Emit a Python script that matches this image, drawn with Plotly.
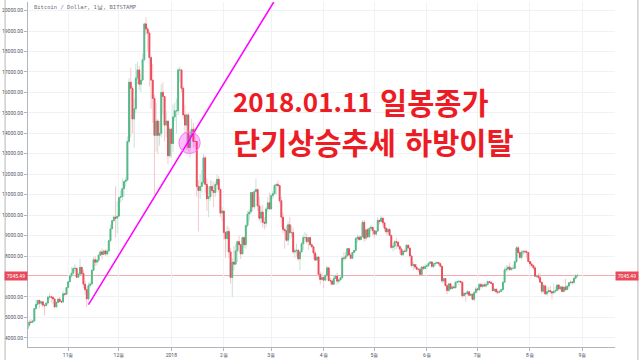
import plotly.graph_objects as go
import pandas as pd

# ---------------- data (daily BTC/USD, Bitstamp) ----------------
first_open = 4440
start_date = "2017-10-08"

oct_c = [4610, 4770, 4760, 4820, 5430, 5640, 5830, 5690, 5760, 5600, 5570, 5700, 5990, 6010, 5980, 5900, 5510, 5730, 5890, 5770, 5750, 6150, 6130, 6460]
oct_h = [4620, 4880, 4920, 4880, 5440, 5860, 5850, 5860, 5780, 5780, 5600, 5720, 6070, 6190, 6070, 6050, 5900, 5770, 5970, 6000, 5850, 6300, 6200, 6470]
oct_l = [4420, 4560, 4740, 4730, 4820, 5380, 5560, 5450, 5570, 5510, 5100, 5540, 5610, 5880, 5730, 5650, 5460, 5480, 5690, 5730, 5680, 5690, 6030, 6100]

nov_c = [6740, 7030, 7160, 7390, 7400, 6960, 7110, 7450, 7140, 6620, 6350, 5900, 6560, 6630, 7300, 7820, 7700, 7790, 8040, 8200, 8080, 8250, 8100, 8240, 8750, 9330, 9730, 9900, 9850, 9950]
nov_h = [6780, 7100, 7450, 7490, 7600, 7410, 7200, 7880, 7460, 7340, 6790, 6500, 6710, 6760, 7350, 7950, 8000, 7850, 8100, 8290, 8370, 8300, 8310, 8350, 8800, 9530, 9750, 10000, 11400, 10700]
nov_l = [6380, 6720, 6930, 7030, 7250, 6930, 6940, 7060, 7070, 6430, 6110, 5500, 5820, 6460, 6590, 7290, 7500, 7530, 7670, 8000, 7850, 8060, 8010, 7960, 8090, 8690, 9340, 9650, 8900, 9100]

dec_c = [10860, 10900, 11290, 11640, 11710, 13600, 16500, 16200, 14700, 15200, 16700, 17100, 16400, 16600, 17600, 19350, 19100, 18900, 17700, 16600, 15700, 13900, 14600, 13900, 14000, 16000, 15800, 14400, 14600, 12900, 14200]
dec_h = [10900, 11200, 11800, 11650, 11850, 13850, 16700, 17200, 16300, 15700, 17400, 17500, 17300, 16900, 17900, 19400, 19666, 19200, 19000, 17800, 17400, 15900, 15500, 14700, 14600, 16400, 16500, 15500, 15100, 14600, 14300]
dec_l = [9900, 10600, 10700, 10900, 11400, 11700, 13500, 13800, 14000, 13300, 15000, 16400, 16100, 16000, 16600, 17500, 18800, 18000, 16300, 15200, 14500, 11000, 13100, 13000, 13400, 13800, 14900, 13600, 13800, 12500, 12800]

jan_c = [13500, 14800, 15100, 15100, 17100, 17100, 16200, 14900, 14400, 14900, 13300, 13900, 14200, 13600, 13600, 11400, 11200, 11400, 11600, 12800, 11500, 10800, 10900, 11400, 11200, 11100, 11500, 11750, 11250, 10100, 10200]
jan_h = [14250, 15400, 15500, 15700, 17200, 17250, 17100, 16300, 15400, 14950, 15000, 14100, 14700, 14500, 14300, 13600, 11700, 12000, 12200, 13000, 12900, 11800, 11400, 11700, 11700, 11600, 11650, 12000, 11900, 11300, 10400]
jan_l = [12800, 13100, 14600, 14000, 14900, 16500, 16000, 14700, 14000, 13200, 13100, 12800, 13800, 13300, 13300, 10900, 9200, 10800, 11100, 11500, 11100, 10200, 9900, 10700, 10900, 10400, 10900, 11400, 11100, 9900, 9700]

feb_c = [9150, 8850, 9200, 8200, 6950, 7700, 7600, 8250, 8700, 8550, 8100, 8900, 8550, 9500, 10050, 10150, 11100, 10400, 11150, 11250, 10450, 9850, 10150, 9650, 9600, 10300, 10600, 10300]
feb_h = [10200, 9200, 9500, 9400, 8400, 7900, 8500, 8600, 8750, 9000, 8600, 8950, 8950, 9500, 10200, 10300, 11100, 11100, 11250, 11780, 11300, 10900, 10400, 10500, 9900, 10400, 10880, 11100]
feb_l = [8800, 7900, 8200, 7900, 6650, 5980, 7300, 7600, 7700, 8200, 7850, 8100, 8400, 8350, 9400, 9700, 10050, 10200, 10300, 11100, 10200, 9700, 9600, 9400, 9300, 9400, 10150, 10300]

mar_c = [10950, 11050, 11450, 11500, 11450, 10700, 9900, 9300, 9230, 8770, 9530, 9140, 9150, 8200, 8250, 8280, 7860, 8200, 8600, 8900, 8900, 8700, 8900, 8550, 8450, 8150, 7800, 7950, 7100, 6850, 6950]
mar_h = [11050, 11200, 11500, 11550, 11700, 11450, 10900, 10100, 9400, 9500, 9700, 9900, 9500, 9400, 8400, 8600, 8350, 8300, 8700, 9050, 9180, 9100, 8900, 8900, 8650, 8500, 8250, 8100, 8000, 7250, 7200]
mar_l = [10250, 10800, 11000, 11000, 11350, 10600, 9400, 9100, 8350, 8700, 8500, 8800, 8900, 8100, 7900, 7950, 7760, 7300, 8150, 8300, 8800, 8600, 8300, 8500, 8400, 7850, 7750, 7800, 6950, 6600, 6800]

apr_c = [6820, 7050, 7420, 6800, 6780, 6620, 6900, 7020, 6770, 6830, 6940, 7900, 7890, 8000, 8360, 8050, 7890, 8170, 8270, 8860, 8920, 8800, 8940, 9650, 8870, 9280, 8940, 9350, 9400, 9240]
apr_h = [7050, 7100, 7520, 7420, 6930, 6850, 7050, 7100, 7180, 6890, 6990, 8000, 8200, 8200, 8400, 8400, 8150, 8180, 8290, 8920, 9050, 9020, 8970, 9750, 9760, 9300, 9380, 9440, 9520, 9450]
apr_l = [6420, 6780, 7000, 6750, 6580, 6570, 6600, 6980, 6600, 6650, 6820, 6880, 7750, 7830, 7990, 8000, 7830, 7850, 8130, 8200, 8650, 8740, 8800, 8930, 8700, 8750, 8900, 8880, 9200, 9000]

may_c = [9070, 9220, 9740, 9690, 9850, 9620, 9360, 9180, 9300, 9010, 8420, 8480, 8700, 8680, 8480, 8340, 8060, 8240, 8230, 8530, 8390, 8000, 7530, 7580, 7460, 7350, 7350, 7100, 7460, 7390, 7490]
may_h = [9250, 9250, 9900, 9800, 9960, 9880, 9600, 9420, 9350, 9380, 9010, 8640, 8770, 8870, 8700, 8480, 8420, 8270, 8370, 8580, 8560, 8400, 8020, 7730, 7610, 7620, 7380, 7450, 7530, 7530, 7620]
may_l = [8870, 8990, 9170, 9540, 9680, 9460, 9200, 9040, 9000, 9000, 8350, 8220, 8300, 8330, 8420, 8100, 8010, 7990, 8160, 8180, 8350, 7950, 7450, 7300, 7360, 7330, 7230, 7070, 7080, 7320, 7370]

jun_c = [7530, 7640, 7710, 7490, 7620, 7650, 7680, 7620, 7500, 6780, 6900, 6550, 6310, 6640, 6400, 6490, 6450, 6710, 6740, 6760, 6720, 6050, 6170, 6150, 6250, 6080, 6130, 5880, 6210, 6390]
jun_h = [7610, 7690, 7750, 7730, 7640, 7690, 7750, 7690, 7680, 7500, 6900, 6920, 6610, 6660, 6650, 6550, 6580, 6800, 6800, 6830, 6800, 6740, 6240, 6250, 6350, 6280, 6190, 6170, 6290, 6500]
jun_l = [7360, 7470, 7610, 7440, 7400, 7500, 7620, 7530, 7450, 6650, 6690, 6510, 6130, 6250, 6350, 6380, 6420, 6400, 6680, 6560, 6680, 5960, 6050, 5780, 6080, 6020, 6040, 5830, 5800, 6200]

jul_c = [6350, 6610, 6510, 6590, 6530, 6600, 6750, 6710, 6660, 6300, 6380, 6240, 6230, 6270, 6350, 6720, 7320, 7370, 7460, 7330, 7400, 7400, 7720, 8400, 8170, 7930, 8190, 8230, 8210, 8170, 7730]
jul_h = [6450, 6680, 6700, 6650, 6700, 6710, 6810, 6780, 6810, 6700, 6400, 6400, 6370, 6330, 6400, 6750, 7450, 7560, 7560, 7680, 7440, 7580, 7780, 8490, 8490, 8300, 8280, 8250, 8290, 8280, 8180]
jul_l = [6270, 6300, 6460, 6420, 6480, 6470, 6580, 6670, 6630, 6280, 6290, 6140, 6120, 6170, 6250, 6330, 6680, 7220, 7250, 7270, 7310, 7350, 7360, 7680, 8080, 7860, 7810, 8050, 8110, 7900, 7680]

aug_c = [7610, 7540, 7420, 7010, 7030, 6940, 6720, 6280, 6540, 6150, 6250, 6310, 6250, 6190, 6270, 6310, 6580, 6390, 6490, 6260, 6480, 6360, 6530, 6690, 6730, 6700, 6910, 7030, 7045.49]
aug_h = [7760, 7700, 7550, 7500, 7080, 7150, 7150, 6730, 6630, 6590, 6480, 6470, 6540, 6280, 6640, 6490, 6600, 6590, 6540, 6520, 6500, 6890, 6560, 6720, 6800, 6780, 6940, 7130, 7140]
aug_l = [7450, 7440, 7320, 6960, 6910, 6850, 6700, 6150, 6180, 6080, 6050, 6210, 6160, 5880, 6190, 6210, 6270, 6300, 6320, 6250, 6250, 6290, 6310, 6410, 6640, 6580, 6650, 6850, 6960]

last_price = 7045.49

month_ticks = ["2017-11-01", "2017-12-01", "2018-01-01", "2018-02-01", "2018-03-01", "2018-04-01",
               "2018-05-01", "2018-06-01", "2018-07-01", "2018-08-01", "2018-09-01"]
month_labels = ["11월", "12월", "2018", "2월", "3월", "4월", "5월", "6월", "7월", "8월", "9월"]
# 7000.00 is hidden behind the last-price badge in the original
price_ticks = [4000, 5000, 6000, 8000, 9000, 10000, 11000, 12000, 13000, 14000,
               15000, 16000, 17000, 18000, 19000, 20000]

title_text = "Bitcoin / Dollar, 1날, BITSTAMP"
note_date = "2018.01.11"
note_word1 = "일봉종가"
note_word2a = "단기상승추세"
note_word2b = "하방이탈"

# trendline anchor points (date, price) and circle marking the break
trend_start = ("2017-11-13 00:00", 5620)
trend_end = ("2018-03-02 13:00", 20420)
circle_box = ("2018-01-05 11:00", "2018-01-18 01:00", 13010, 14070)

# ---------------- assemble ----------------
close = oct_c + nov_c + dec_c + jan_c + feb_c + mar_c + apr_c + may_c + jun_c + jul_c + aug_c
high = oct_h + nov_h + dec_h + jan_h + feb_h + mar_h + apr_h + may_h + jun_h + jul_h + aug_h
low = oct_l + nov_l + dec_l + jan_l + feb_l + mar_l + apr_l + may_l + jun_l + jul_l + aug_l
assert len(close) == len(high) == len(low), (len(close), len(high), len(low))
opn = [first_open] + close[:-1]
dates = pd.date_range(start_date, periods=len(close), freq="D")
body_hi = [max(o, c) for o, c in zip(opn, close)]
body_lo = [min(o, c) for o, c in zip(opn, close)]

UP = "#53b987"
DOWN = "#eb4d5c"
UP_WICK = "#c6e3d7"
DOWN_WICK = "#f6c8cd"
AXIS = "#b2b5be"
GRID = "#f0f2f5"
TXT = "#4c525e"

fig = go.Figure()
fig.add_trace(go.Candlestick(
    x=dates, open=opn, high=high, low=low, close=close,
    increasing=dict(line=dict(color=UP_WICK, width=1), fillcolor=UP_WICK),
    decreasing=dict(line=dict(color=DOWN_WICK, width=1), fillcolor=DOWN_WICK),
    whiskerwidth=0, showlegend=False, hoverinfo="skip"))
fig.add_trace(go.Candlestick(
    x=dates, open=opn, high=body_hi, low=body_lo, close=close,
    increasing=dict(line=dict(color=UP, width=1), fillcolor=UP),
    decreasing=dict(line=dict(color=DOWN, width=1), fillcolor=DOWN),
    whiskerwidth=0, showlegend=False, hoverinfo="skip"))

tick_font = dict(family="Roboto, DejaVu Sans, sans-serif", size=5, color=TXT)
yrange = [3550, 20420]

fig.update_layout(
    width=640, height=360,
    margin=dict(l=25, r=25, t=2, b=10),
    paper_bgcolor="white", plot_bgcolor="white",
    showlegend=False,
    xaxis=dict(
        type="date", range=["2017-10-08 06:00", "2018-09-20 06:00"],
        rangeslider=dict(visible=False),
        tickvals=month_ticks, ticktext=month_labels, tickfont=tick_font,
        showgrid=True, gridcolor=GRID, gridwidth=1,
        showline=True, linecolor=AXIS, linewidth=1,
        ticks="outside", ticklen=3, tickcolor=AXIS, zeroline=False,
    ),
    yaxis=dict(
        range=yrange, tickvals=price_ticks, tickformat=".2f", tickfont=tick_font,
        showgrid=True, gridcolor=GRID, gridwidth=1,
        showline=True, linecolor=AXIS, linewidth=1,
        ticks="outside", ticklen=3, tickcolor=AXIS, zeroline=False,
    ),
    yaxis2=dict(
        range=yrange, overlaying="y", side="right",
        tickvals=price_ticks, tickformat=".2f", tickfont=tick_font,
        showgrid=False, showline=True, linecolor=AXIS, linewidth=1,
        ticks="outside", ticklen=3, tickcolor=AXIS, zeroline=False,
    ),
)

# last price line
fig.add_shape(type="line", xref="paper", yref="y", x0=0, x1=1, y0=last_price, y1=last_price,
              line=dict(color="#f4a9b0", width=1), layer="below")

# trendline
fig.add_shape(type="line", xref="x", yref="y",
              x0=trend_start[0], y0=trend_start[1], x1=trend_end[0], y1=trend_end[1],
              line=dict(color="#ff00ff", width=1.5))
# break circle
fig.add_shape(type="circle", xref="x", yref="y",
              x0=circle_box[0], x1=circle_box[1], y0=circle_box[2], y1=circle_box[3],
              line=dict(color="#f27ef2", width=1), fillcolor="rgba(255,0,255,0.25)")

# outer frame
for xp in (-0.039, 1.039):
    fig.add_shape(type="line", xref="paper", yref="paper", x0=xp, x1=xp, y0=-0.05, y1=1.02,
                  line=dict(color="#b8b8b8", width=1))

# price badges
badge_font = dict(family="Roboto, DejaVu Sans, sans-serif", size=5, color="white")
fig.add_annotation(xref="paper", yref="y", x=0, y=last_price, xanchor="right", yanchor="middle",
                   text="7045.49", showarrow=False, bgcolor="#e84a5a", font=badge_font,
                   borderpad=1, width=20)
fig.add_annotation(xref="paper", yref="y", x=1, y=last_price, xanchor="left", yanchor="middle",
                   text="7045.49", showarrow=False, bgcolor="#e84a5a", font=badge_font,
                   borderpad=1, width=20)

# chart title
fig.add_annotation(xref="paper", yref="paper", x=0.006, y=0.985, xanchor="left", yanchor="middle",
                   text=title_text, showarrow=False,
                   font=dict(family="DejaVu Sans Mono, monospace", size=5.5, color="#6a6d78"))

# red commentary
RED = "#ec1c24"
digit_font = dict(family="Noto Sans CJK KR", size=26, color=RED, weight="bold")
hangul_font = dict(family="Noto Sans CJK KR", size=29.5, color=RED, weight="bold")
y1p, y2p = 0.7135, 0.597
fig.add_annotation(xref="paper", yref="paper", x=0.3466, y=y1p, xanchor="left", yanchor="middle",
                   text=note_date, showarrow=False, font=digit_font)
fig.add_annotation(xref="paper", yref="paper", x=0.5965, y=y1p, xanchor="left", yanchor="middle",
                   text=note_word1, showarrow=False, font=hangul_font)
fig.add_annotation(xref="paper", yref="paper", x=0.3466, y=y2p, xanchor="left", yanchor="middle",
                   text=note_word2a, showarrow=False, font=hangul_font)
fig.add_annotation(xref="paper", yref="paper", x=0.638, y=y2p, xanchor="left", yanchor="middle",
                   text=note_word2b, showarrow=False, font=hangul_font)

fig.write_html("out.html")
